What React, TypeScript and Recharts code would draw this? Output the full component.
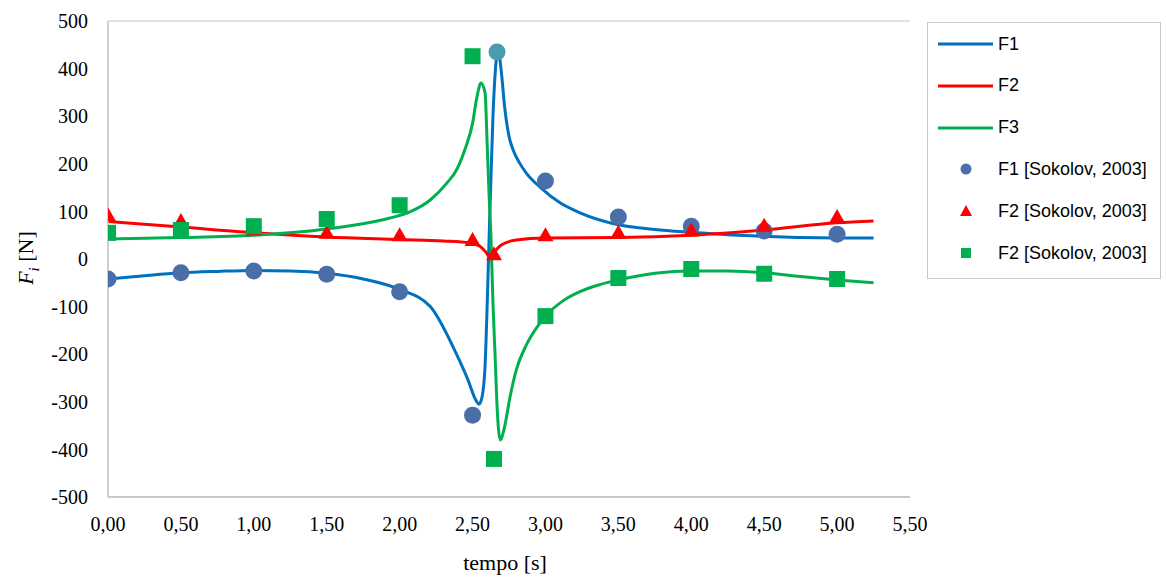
import React from "react";
import {
  ComposedChart, Line, Scatter, XAxis, YAxis, CartesianGrid, Cell,
} from "recharts";

// simulated curves: [tempo, forza]
const f1Curve: [number, number][] = [
  [0, -42], [0.25, -35], [0.5, -29], [0.75, -26], [1, -24], [1.25, -25], [1.5, -30], [1.75, -42],
  [2, -64], [2.21, -100], [2.39, -200], [2.47, -255], [2.52, -295], [2.545, -305], [2.565, -290],
  [2.585, -230], [2.6, -100], [2.615, 60], [2.64, 300], [2.66, 410], [2.675, 435], [2.685, 425],
  [2.7, 385], [2.72, 320], [2.73, 295], [2.75, 258], [2.78, 228], [2.82, 203], [2.87, 180],
  [2.963, 151], [3.1, 118], [3.237, 97], [3.5, 72], [3.75, 62], [4, 56], [4.25, 51], [4.5, 48],
  [4.75, 45], [5, 44], [5.25, 44],
];
const f2Curve: [number, number][] = [
  [0, 79], [0.5, 67], [1, 55], [1.5, 46], [2, 41], [2.3, 38], [2.48, 34], [2.55, 27], [2.59, 15],
  [2.62, 3], [2.65, 15], [2.7, 30], [2.8, 40], [3, 44], [3.5, 45], [4, 50], [4.5, 61], [5, 76], [5.25, 80],
];
const f3Curve: [number, number][] = [
  [0, 42], [0.5, 45], [1, 50], [1.5, 63], [1.934, 86], [2.07, 99], [2.21, 124], [2.325, 160],
  [2.39, 187], [2.45, 232], [2.5, 285], [2.53, 340], [2.558, 370], [2.586, 349], [2.6, 244],
  [2.613, 139], [2.627, 40], [2.64, -93], [2.654, -198], [2.667, -302], [2.69, -380], [2.72, -352],
  [2.757, -290], [2.8, -233], [2.87, -180], [2.95, -140], [3.01, -117], [3.12, -88], [3.24, -68],
  [3.37, -54], [3.5, -44], [3.75, -30], [4, -25], [4.25, -25], [4.5, -29], [4.75, -37], [5, -44], [5.25, -50],
];

// Sokolov, 2003 reference points
const f1Sokolov: [number, number][] = [
  [0, -42], [0.5, -29], [1, -25], [1.5, -32], [2, -69], [2.5, -328], [2.668, 435],
  [3, 164], [3.5, 88], [4, 69], [4.5, 59], [5, 52],
];
const f2Sokolov: [number, number][] = [
  [0, 92], [0.5, 80], [1, 62], [1.5, 55], [2, 50], [2.5, 40], [2.647, 10],
  [3, 50], [3.5, 55], [4, 60], [4.5, 70], [5, 88],
];
const f3Sokolov: [number, number][] = [
  [0, 55], [0.5, 61], [1, 69], [1.5, 84], [2, 113], [2.5, 426], [2.647, -420],
  [3, -120], [3.5, -40], [4, -21], [4.5, -31], [5, -42],
];

const xTicks = [0, 0.5, 1, 1.5, 2, 2.5, 3, 3.5, 4, 4.5, 5, 5.5];
const yTicks = [-500, -400, -300, -200, -100, 0, 100, 200, 300, 400, 500];

const toRows = (arr: [number, number][]) => arr.map(([t, v]) => ({ t, v }));

const BLUE = "#0070C0";
const RED = "#FF0000";
const GREEN = "#00B050";
const DOT_BLUE = "#4A6EA8";

const serif = "'Liberation Serif', 'Times New Roman', serif";
const sans = "'Liberation Sans', Arial, sans-serif";

const Circle = (p: any) => <circle cx={p.cx} cy={p.cy} r={8.5} fill={p.fill} />;
const Tri = (p: any) => (
  <polygon points={`${p.cx},${p.cy - 8} ${p.cx + 8},${p.cy + 6} ${p.cx - 8},${p.cy + 6}`} fill={RED} />
);
const Sq = (p: any) => <rect x={p.cx - 8} y={p.cy - 8} width={16} height={16} fill={GREEN} />;

const legendItems = [
  { label: "F1", kind: "line", color: BLUE },
  { label: "F2", kind: "line", color: RED },
  { label: "F3", kind: "line", color: GREEN },
  { label: "F1 [Sokolov, 2003]", kind: "circle", color: DOT_BLUE },
  { label: "F2 [Sokolov, 2003]", kind: "tri", color: RED },
  { label: "F2 [Sokolov, 2003]", kind: "square", color: GREEN },
];

function LegendBox() {
  return (
    <div
      style={{
        position: "absolute", left: 927, top: 22, width: 234, height: 257,
        border: "1.5px solid #C8C8C8", boxSizing: "border-box", background: "#fff",
      }}
    >
      {legendItems.map((it, i) => (
        <div
          key={i}
          style={{ position: "absolute", left: 0, top: 21 + i * 41.8 - 11, height: 22, display: "flex", alignItems: "center" }}
        >
          <svg width={70} height={22} style={{ display: "block" }}>
            {it.kind === "line" && <line x1={10} x2={65} y1={11} y2={11} stroke={it.color} strokeWidth={3} />}
            {it.kind === "circle" && <circle cx={38} cy={11} r={5.5} fill={it.color} />}
            {it.kind === "tri" && <polygon points="38,5 44,16 32,16" fill={it.color} />}
            {it.kind === "square" && <rect x={33} y={6} width={10} height={10} fill={it.color} />}
          </svg>
          <span style={{ fontFamily: sans, fontSize: 18, color: "#000", whiteSpace: "nowrap" }}>{it.label}</span>
        </div>
      ))}
    </div>
  );
}

export default function App() {
  return (
    <div
      style={{
        position: "absolute", left: 0, top: 0, width: 1166, height: 578,
        background: "#fff", fontFamily: serif,
      }}
    >
      <ComposedChart width={1166} height={578} margin={{ top: 21, right: 256, left: 48, bottom: 51 }}>
        <CartesianGrid vertical={false} stroke="#D9D9D9" strokeWidth={1.5} />
        <XAxis
          type="number"
          dataKey="t"
          domain={[0, 5.5]}
          ticks={xTicks}
          interval={0}
          height={30}
          tickFormatter={(v: number) => v.toFixed(2).replace(".", ",")}
          tick={{ fill: "#000", fontSize: 20, fontFamily: serif }}
          tickLine={false}
          tickSize={0}
          tickMargin={20}
          axisLine={{ stroke: "#BFBFBF", strokeWidth: 1.5 }}
          allowDataOverflow
        />
        <YAxis
          yAxisId="l"
          type="number"
          domain={[-500, 500]}
          ticks={yTicks}
          interval={0}
          width={60}
          tick={{ fill: "#000", fontSize: 20, fontFamily: serif }}
          tickLine={false}
          tickSize={0}
          tickMargin={20}
          axisLine={{ stroke: "#BFBFBF", strokeWidth: 1.5 }}
        />
        <YAxis
          yAxisId="r"
          orientation="right"
          type="number"
          domain={[-500, 500]}
          width={0}
          tick={false}
          tickLine={false}
          axisLine={{ stroke: "#BFBFBF", strokeWidth: 1.5 }}
        />
        <Line yAxisId="l" data={toRows(f1Curve)} dataKey="v" type="monotone" stroke={BLUE} strokeWidth={3} dot={false} isAnimationActive={false} />
        <Line yAxisId="l" data={toRows(f2Curve)} dataKey="v" type="monotone" stroke={RED} strokeWidth={3} dot={false} isAnimationActive={false} />
        <Line yAxisId="l" data={toRows(f3Curve)} dataKey="v" type="monotone" stroke={GREEN} strokeWidth={3} dot={false} isAnimationActive={false} />
        <Scatter yAxisId="l" data={toRows(f1Sokolov)} dataKey="v" shape={Circle} fill={DOT_BLUE} isAnimationActive={false}>
          {f1Sokolov.map((_, i) => (
            <Cell key={i} fill={i === 6 ? "#4A9AB0" : DOT_BLUE} />
          ))}
        </Scatter>
        <Scatter yAxisId="l" data={toRows(f2Sokolov)} dataKey="v" shape={Tri} fill={RED} isAnimationActive={false} />
        <Scatter yAxisId="l" data={toRows(f3Sokolov)} dataKey="v" shape={Sq} fill={GREEN} isAnimationActive={false} />
      </ComposedChart>

      <div
        style={{
          position: "absolute", left: 28, top: 258, transform: "translate(-50%, -50%) rotate(-90deg)",
          fontFamily: serif, fontSize: 22, whiteSpace: "nowrap", color: "#000",
        }}
      >
        <i>F</i><sub style={{ fontSize: 15, fontStyle: "italic" }}>i</sub> [N]
      </div>
      <div
        style={{
          position: "absolute", left: 505, top: 563, transform: "translate(-50%, -50%)",
          fontFamily: serif, fontSize: 22, whiteSpace: "nowrap", color: "#000",
        }}
      >
        tempo [s]
      </div>
      <LegendBox />
    </div>
  );
}
